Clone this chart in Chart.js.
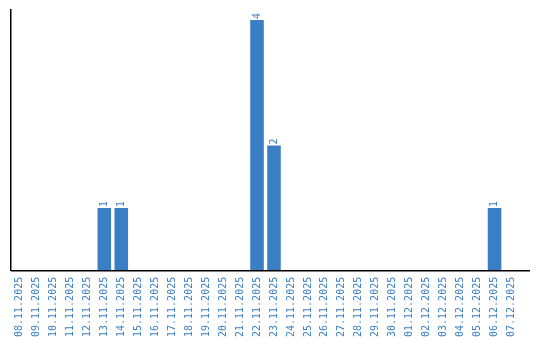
<!DOCTYPE html>
<html lang="de">
<head>
    <meta charset="UTF-8">
    <title>Anzahl pro Tag</title>
    <script src="https://cdn.jsdelivr.net/npm/chart.js"></script>
    <style>
        html, body { margin: 0; padding: 0; background: #fff; }
        #wrap { width: 540px; height: 340px; }
    </style>
</head>
<body>
    <div id="wrap"><canvas id="dayChart" width="540" height="340"></canvas></div>

    <script>
        const days = [
            '08.11.2025', '09.11.2025', '10.11.2025', '11.11.2025', '12.11.2025',
            '13.11.2025', '14.11.2025', '15.11.2025', '16.11.2025', '17.11.2025',
            '18.11.2025', '19.11.2025', '20.11.2025', '21.11.2025', '22.11.2025',
            '23.11.2025', '24.11.2025', '25.11.2025', '26.11.2025', '27.11.2025',
            '28.11.2025', '29.11.2025', '30.11.2025', '01.12.2025', '02.12.2025',
            '03.12.2025', '04.12.2025', '05.12.2025', '06.12.2025', '07.12.2025'
        ];
        const counts = [
            0, 0, 0, 0, 0,
            1, 1, 0, 0, 0,
            0, 0, 0, 0, 4,
            2, 0, 0, 0, 0,
            0, 0, 0, 0, 0,
            0, 0, 0, 1, 0
        ];

        const blue = '#3a7fc4';
        const monoFont = { family: "'DejaVu Sans Mono', monospace", size: 10 };

        // draws the value vertically above each non-empty bar
        const valueLabels = {
            id: 'valueLabels',
            afterDatasetsDraw(chart) {
                const ctx = chart.ctx;
                const meta = chart.getDatasetMeta(0);
                ctx.save();
                ctx.fillStyle = blue;
                ctx.font = "10px 'DejaVu Sans Mono', monospace";
                ctx.textAlign = 'left';
                ctx.textBaseline = 'middle';
                meta.data.forEach((bar, i) => {
                    if (!counts[i]) return;
                    ctx.save();
                    ctx.translate(bar.x, bar.y - 1);
                    ctx.rotate(-Math.PI / 2);
                    ctx.fillText(String(counts[i]), 0, 0);
                    ctx.restore();
                });
                ctx.restore();
            }
        };

        // bottom axis line runs a bit past the last category
        const baseLine = {
            id: 'baseLine',
            afterDraw(chart) {
                const { ctx, chartArea } = chart;
                ctx.save();
                ctx.strokeStyle = '#000';
                ctx.lineWidth = 1.5;
                ctx.beginPath();
                ctx.moveTo(chartArea.left, chartArea.bottom);
                ctx.lineTo(chartArea.right + 10, chartArea.bottom);
                ctx.stroke();
                ctx.restore();
            }
        };

        new Chart(document.getElementById('dayChart'), {
            type: 'bar',
            data: {
                labels: days,
                datasets: [{
                    data: counts,
                    backgroundColor: blue,
                    borderWidth: 0,
                    barPercentage: 0.8,
                    categoryPercentage: 1.0
                }]
            },
            options: {
                responsive: false,
                animation: false,
                layout: { padding: { left: 3, right: 20, top: 10, bottom: 3 } },
                plugins: {
                    legend: { display: false },
                    tooltip: { enabled: false }
                },
                scales: {
                    x: {
                        grid: { display: false, drawTicks: true, tickLength: 6 },
                        border: { display: false },
                        ticks: {
                            color: blue,
                            font: monoFont,
                            minRotation: 90,
                            maxRotation: 90,
                            autoSkip: false,
                            padding: 0
                        }
                    },
                    y: {
                        min: 0,
                        max: 4.16,
                        grid: { display: false },
                        border: { color: '#000', width: 1.5 },
                        ticks: { display: false }
                    }
                }
            },
            plugins: [valueLabels, baseLine]
        });
    </script>
</body>
</html>
